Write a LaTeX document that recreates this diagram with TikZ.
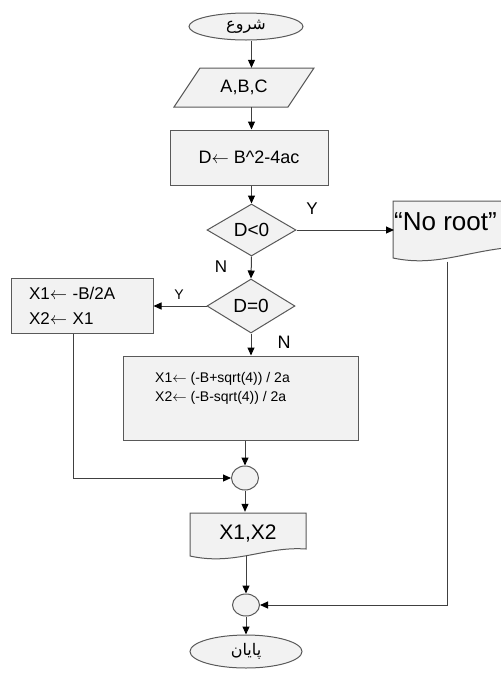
\documentclass[tikz,border=0pt]{standalone}
\usepackage{fontspec}
\setmainfont{Liberation Sans}
\newfontfamily\arabicfont[Script=Arabic]{DejaVu Sans}
\TeXXeTstate=1
\usetikzlibrary{shapes.geometric,arrows.meta,calc}
\definecolor{fillgray}{HTML}{F2F2F2}
\definecolor{shapegray}{HTML}{595959}
\definecolor{linegray}{HTML}{404040}
\newcommand{\fs}[1]{\fontsize{#1}{#1}\selectfont}
\begin{document}
\begin{tikzpicture}[x=1pt,y=-1pt,
  shp/.style={draw=shapegray, fill=fillgray, line width=1pt, inner sep=0pt},
  plain/.style={inner sep=0pt},
  arr/.style={draw=linegray, line width=1pt, -{Triangle[length=8pt,width=7pt,color=black]}},
  ln/.style={draw=linegray, line width=1pt},
  lbl/.style={inner sep=0pt, font=\fs{17}}
]
\useasboundingbox (0,0) rectangle (501,678);
\clip (0,0) rectangle (501,678);

% start
\node[shp, ellipse, minimum width=114pt, minimum height=27pt] (start) at (246,26.5)
  {\arabicfont\fs{16}\beginR شروع\endR};

% input parallelogram
\draw[shp] (200,68) -- (314,68) -- (288,107) -- (174,107) -- cycle;
\node[plain, minimum width=114pt, minimum height=39pt, font=\fs{18}] (inp) at (244,87.5) {A,B,C};

% D box
\node[shp, rectangle, minimum width=158pt, minimum height=55pt, font=\fs{18}] (dbox) at (249,157.5)
  {D$\leftarrow$ B\textasciicircum 2-4ac};

% diamonds
\node[shp, diamond, minimum width=89pt, minimum height=52pt, font=\fs{19}] (d1) at (251.5,230) {D<0};
\node[shp, diamond, minimum width=88pt, minimum height=54pt, font=\fs{19}] (d2) at (251,306) {D=0};

% No root document shape
\draw[shp] (393,201) -- (530,201) -- (530,246)
  .. controls (470,248) and (440,268) .. (393,258) -- cycle;
\node[plain, anchor=west, font=\fs{26}] (noroot) at (394,222) {“No root”};
\coordinate (nrb) at (447,261.5);

% X1 box (left)
\node[shp, rectangle, minimum height=55pt, text width=106pt, inner xsep=18pt, align=left,
  font=\fontsize{17}{25}\selectfont] (x1box) at (82,305.5)
  {X1$\leftarrow$ -B/2A\\X2$\leftarrow$ X1};

% box 2
\node[shp, rectangle, minimum width=235pt, minimum height=84pt] (box2) at (240.5,398) {};
\node[plain, anchor=west, align=left, font=\fontsize{14}{19}\selectfont] (box2txt) at (155,388)
  {X1$\leftarrow$ (-B+sqrt(4)) / 2a\\X2$\leftarrow$ (-B-sqrt(4)) / 2a};

% circle 1
\node[shp, ellipse, minimum width=27pt, minimum height=24pt] (c1) at (245,478) {};

% X1,X2 output document
\draw[shp] (190,513) -- (306,513) -- (306,549)
  .. controls (265,546) and (235,566) .. (190,556) -- cycle;
\node[plain, minimum width=116pt, minimum height=44pt, font=\fs{21}] (x12) at (248,534) {X1,X2};

% circle 2
\node[shp, ellipse, minimum width=27pt, minimum height=22pt] (c2) at (246,605) {};

% end
\node[shp, ellipse, minimum width=112pt, minimum height=33pt] (end) at (246,651.5)
  {\arabicfont\fs{16}\beginR پایان\endR};

% labels
\node[lbl] (ly1) at (312,209) {Y};
\node[lbl] (ln1) at (221,267) {N};
\node[lbl, font=\fs{14}] (ly2) at (179,295) {Y};
\node[lbl, font=\fs{18}] (ln2) at (284,342) {N};

% connectors
\draw[arr] (start.south -| d1) -- (inp.north -| d1);
\draw[arr] (inp.south -| d1) -- (dbox.north -| d1);
\draw[arr] (dbox.south -| d1) -- (d1.north);
\draw[arr] (d1.east) -- (d1.east -| noroot.west);
\draw[arr] (d1.south) -- (d2.north);
\draw[arr] (d2.west) -- (d2.west -| x1box.east);
\draw[arr] (d2.south) -- (d2.south |- box2.north);
\draw[arr] ($(x1box.south)+(-9,0)$) |- (c1.west);
\draw[arr] (box2.south -| c1) -- (c1.north);
\draw[arr] (c1.south) -- (c1.south |- x12.north);
\draw[arr] (x12.south -| c2) -- (c2.north);
\draw[arr] (c2.south) -- (end.north);
\draw[arr] (nrb) |- (c2.east);
\end{tikzpicture}
\end{document}
